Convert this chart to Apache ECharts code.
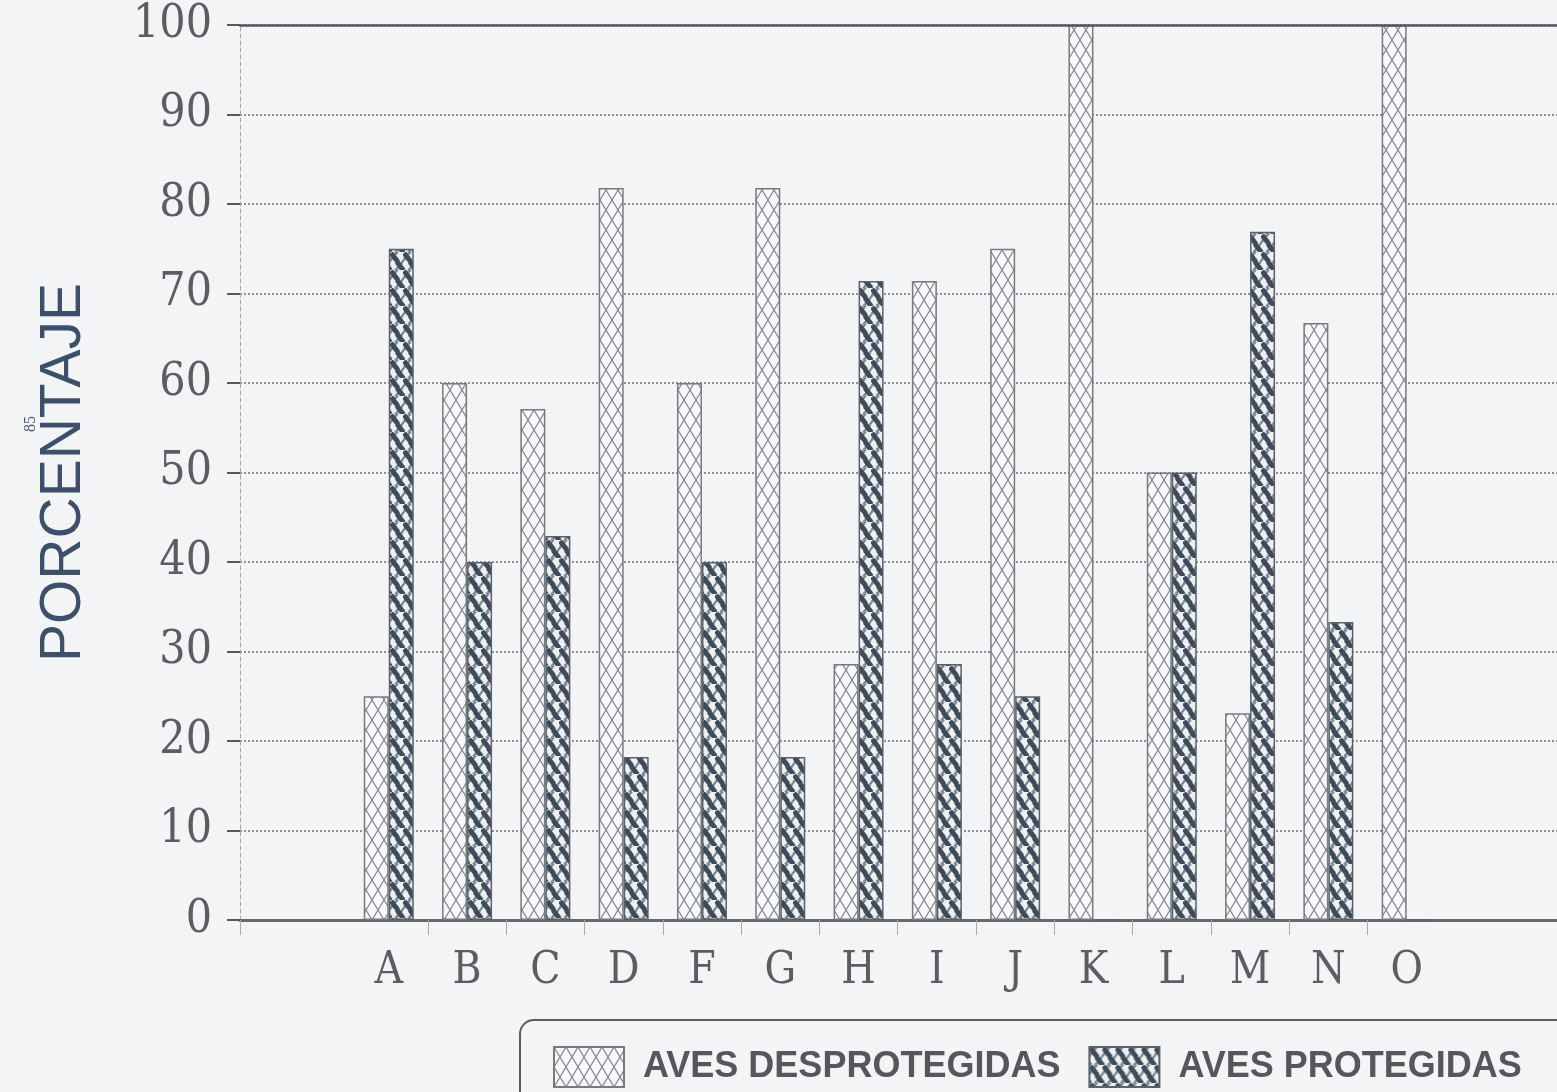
<!DOCTYPE html>
<html>
<head>
<meta charset="utf-8">
<script src="https://cdn.jsdelivr.net/npm/echarts@6/dist/echarts.min.js"></script>
<style>
  html, body { margin: 0; padding: 0; background: #f3f4f6; }
  #chart { width: 1557px; height: 1092px; }
</style>
</head>
<body>
<div id="chart"></div>
<script>
// Categories (localities) and percentage of birds in each group
const categories = ['A', 'B', 'C', 'D', 'F', 'G', 'H', 'I', 'J', 'K', 'L', 'M', 'N', 'O'];
const desprotegidas = [25, 60, 57.1, 81.8, 60, 81.8, 28.6, 71.4, 75, 100, 50, 23.1, 66.7, 100];
const protegidas = [75, 40, 42.9, 18.2, 40, 18.2, 71.4, 28.6, 25, 0, 50, 76.9, 33.3, 0];
const yTicks = [0, 10, 20, 30, 40, 50, 60, 70, 80, 90, 100];

// x positions: category i sits at i + 1 on a numeric axis
const xMin = -0.9;
const xMax = 15.92;
const positions = categories.map((c, i) => i + 1);
const boundaries = [xMin].concat(positions.slice(0, -1).map(p => p + 0.5));

// Hatch fills
function lightHatch() {
  const c = document.createElement('canvas');
  c.width = 12; c.height = 20;
  const g = c.getContext('2d');
  g.fillStyle = '#f7f8f9';
  g.fillRect(0, 0, 12, 20);
  g.strokeStyle = '#85888d';
  g.lineWidth = 1.2;
  g.beginPath();
  g.moveTo(0, 0); g.lineTo(12, 20);
  g.moveTo(12, 0); g.lineTo(0, 20);
  g.stroke();
  return c;
}
function darkHatch() {
  const c = document.createElement('canvas');
  c.width = 13; c.height = 18;
  const g = c.getContext('2d');
  g.fillStyle = '#eceef0';
  g.fillRect(0, 0, 13, 18);
  // thin cross strokes
  g.strokeStyle = '#7f8893';
  g.lineWidth = 2.6;
  g.beginPath();
  g.moveTo(-1, 10); g.lineTo(8, -1);
  g.moveTo(5, 19); g.lineTo(14, 8);
  g.stroke();
  // heavy woven strokes
  g.strokeStyle = '#3d4b5b';
  g.lineWidth = 5;
  g.lineCap = 'butt';
  g.beginPath();
  g.moveTo(1, 1); g.lineTo(8, 10);
  g.moveTo(7, 10); g.lineTo(13.5, 18.5);
  g.moveTo(-6, 10); g.lineTo(0.5, 18.5);
  g.stroke();
  return c;
}

const chart = echarts.init(document.getElementById('chart'), null, { renderer: 'canvas' });

const labelColor = '#5b5d60';
const serif = "'DejaVu Serif Condensed', 'Liberation Serif', serif";

chart.setOption({
  backgroundColor: '#f3f4f6',
  animation: false,
  grid: { left: 240, right: 0, top: 25, bottom: 172 },
  legend: {
    left: 520,
    top: 1020,
    width: 1150,
    padding: [26, 60, 40, 33],
    borderColor: '#5a5c60',
    borderWidth: 2,
    borderRadius: 14,
    itemWidth: 70,
    itemHeight: 40,
    itemGap: 28,
    icon: 'rect',
    textStyle: {
      fontFamily: "'Liberation Sans', Arial, sans-serif",
      fontWeight: 'bold',
      fontSize: 36,
      color: '#55575b',
      padding: [0, 0, 0, 14]
    },
    data: ['AVES DESPROTEGIDAS', 'AVES PROTEGIDAS']
  },
  xAxis: [
    {
      type: 'value',
      min: xMin,
      max: xMax,
      axisLine: { show: true, onZero: false, lineStyle: { color: '#66686c', width: 3 } },
      axisTick: {
        show: true,
        customValues: boundaries,
        length: 15,
        lineStyle: { color: '#a9abae', width: 1 }
      },
      axisLabel: {
        show: true,
        customValues: positions,
        margin: 30,
        fontFamily: serif,
        fontSize: 44,
        color: labelColor,
        formatter: v => categories[Math.round(v) - 1] || ''
      },
      splitLine: { show: false }
    },
    {
      type: 'value',
      position: 'top',
      min: xMin,
      max: xMax,
      z: 5,
      axisLine: { show: true, onZero: false, lineStyle: { color: '#55575b', width: 2.5 } },
      axisTick: { show: false },
      axisLabel: { show: false },
      splitLine: { show: false }
    }
  ],
  yAxis: {
    type: 'value',
    min: yTicks[0],
    max: yTicks[yTicks.length - 1],
    interval: 10,
    name: 'PORCENTAJE',
    nameLocation: 'middle',
    nameGap: 147,
    nameTextStyle: {
      fontFamily: "'Liberation Sans', Arial, sans-serif",
      fontSize: 57,
      color: '#3d4f69'
    },
    axisLine: { show: true, onZero: false, lineStyle: { color: '#a3a6aa', width: 1, type: [4, 3] } },
    axisTick: { show: true, length: 13, lineStyle: { color: '#55575b', width: 2 } },
    axisLabel: {
      margin: 28,
      fontFamily: serif,
      fontSize: 46,
      color: labelColor
    },
    splitLine: {
      show: true,
      lineStyle: { color: '#6c6f73', width: 1.5, type: [2, 2] }
    }
  },
  graphic: [
    {
      type: 'text',
      x: 23,
      y: 432,
      rotation: Math.PI / 2,
      style: {
        text: '85',
        font: "16px 'Liberation Serif', serif",
        fill: '#4f5d70'
      }
    }
  ],
  series: [
    {
      name: 'AVES DESPROTEGIDAS',
      type: 'bar',
      barWidth: 25,
      barGap: '0%',
      itemStyle: {
        color: { image: lightHatch(), repeat: 'repeat' },
        borderColor: '#77797d',
        borderWidth: 1.5
      },
      data: positions.map((p, i) => [p, desprotegidas[i]])
    },
    {
      name: 'AVES PROTEGIDAS',
      type: 'bar',
      barWidth: 25,
      barGap: '0%',
      itemStyle: {
        color: { image: darkHatch(), repeat: 'repeat' },
        borderColor: '#5c6168',
        borderWidth: 1.5
      },
      data: positions.map((p, i) => [p, protegidas[i]])
    }
  ]
});
</script>
</body>
</html>
